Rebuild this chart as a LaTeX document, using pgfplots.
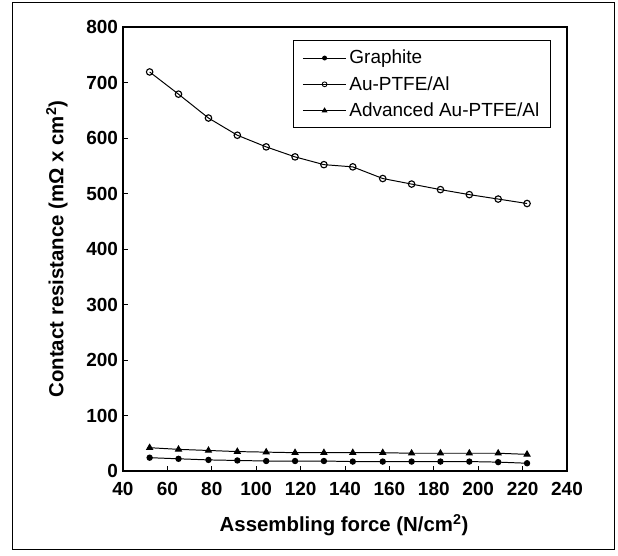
\documentclass[border=0pt]{standalone}
\usepackage{fontspec}
\setmainfont{Liberation Sans}
\usepackage{pgfplots}
\usepackage{pgfplotstable}
\pgfplotsset{compat=1.18}

% force (N/cm^2), graphite, Au-PTFE/Al, advanced Au-PTFE/Al
\pgfplotstableread{
x    gr   au    adv
52   24   719   42
65   22   679   39
78.5 20   636   37
91.5 19   605   35
104.5 18  584   34
117.5 18  566   33
130.5 18  552   33
143.5 17  548   33
157  17   527   33
170  17   517   32
183  17   507   32
196  17   498   32
209  16   490   32
222  14   482   30
}\datatab

\begin{document}
\begin{tikzpicture}
\useasboundingbox (0,0) rectangle (154.5mm,138.75mm);
\draw[line width=0.4pt] (3mm,1.5mm) rectangle (153.5mm,138.25mm);
\begin{axis}[
    at={(30.75mm,21mm)}, anchor=south west,
    width=111mm, height=111mm, scale only axis,
    xmin=40, xmax=240, ymin=0, ymax=800,
    xtick={40,60,...,240}, ytick={0,100,...,800},
    xtick pos=bottom, ytick pos=left,
    tick align=inside, major tick length=1.3mm,
    axis line style={line width=0.9pt},
    tick style={line width=0.7pt, black},
    /pgf/number format/assume math mode=true,
    ticklabel style={font=\fontsize{13.5}{15}\selectfont\bfseries},
    xticklabel style={yshift=-1.6mm},
    xlabel={Assembling force (N/cm\textsuperscript{2})},
    ylabel={Contact resistance (mΩ x cm\textsuperscript{2})},
    xlabel style={font=\fontsize{14.5}{16}\selectfont\bfseries,
        at={(axis description cs:0.498,-0.122)}, anchor=center},
    ylabel style={font=\fontsize{14.5}{16}\selectfont\bfseries,
        at={(axis description cs:-0.149,0.5)}, anchor=center},
    legend style={at={(axis cs:233,776)}, anchor=north east,
        draw=black, line width=0.8pt, font=\fontsize{13.5}{15}\selectfont,
        inner xsep=2.2mm, inner ysep=1.6mm, row sep=1.2mm},
    legend cell align=left,
    legend image code/.code={%
        \draw[mark repeat=2,mark phase=2,line width=0.6pt,mark options={scale=0.75}]
        plot coordinates {(0mm,0mm) (5.4mm,0mm) (10.8mm,0mm)};},
]
\addplot[black, line width=0.7pt, mark=*, mark size=1.9pt] table[x=x,y=gr] {\datatab};
\addlegendentry{Graphite}
\addplot[black, line width=0.7pt, mark=o, mark size=2.3pt, mark options={fill=white, line width=0.8pt}] table[x=x,y=au] {\datatab};
\addlegendentry{Au-PTFE/Al}
\addplot[black, line width=0.7pt, mark=triangle*, mark size=2.4pt] table[x=x,y=adv] {\datatab};
\addlegendentry{Advanced Au-PTFE/Al}
\end{axis}
\end{tikzpicture}
\end{document}
